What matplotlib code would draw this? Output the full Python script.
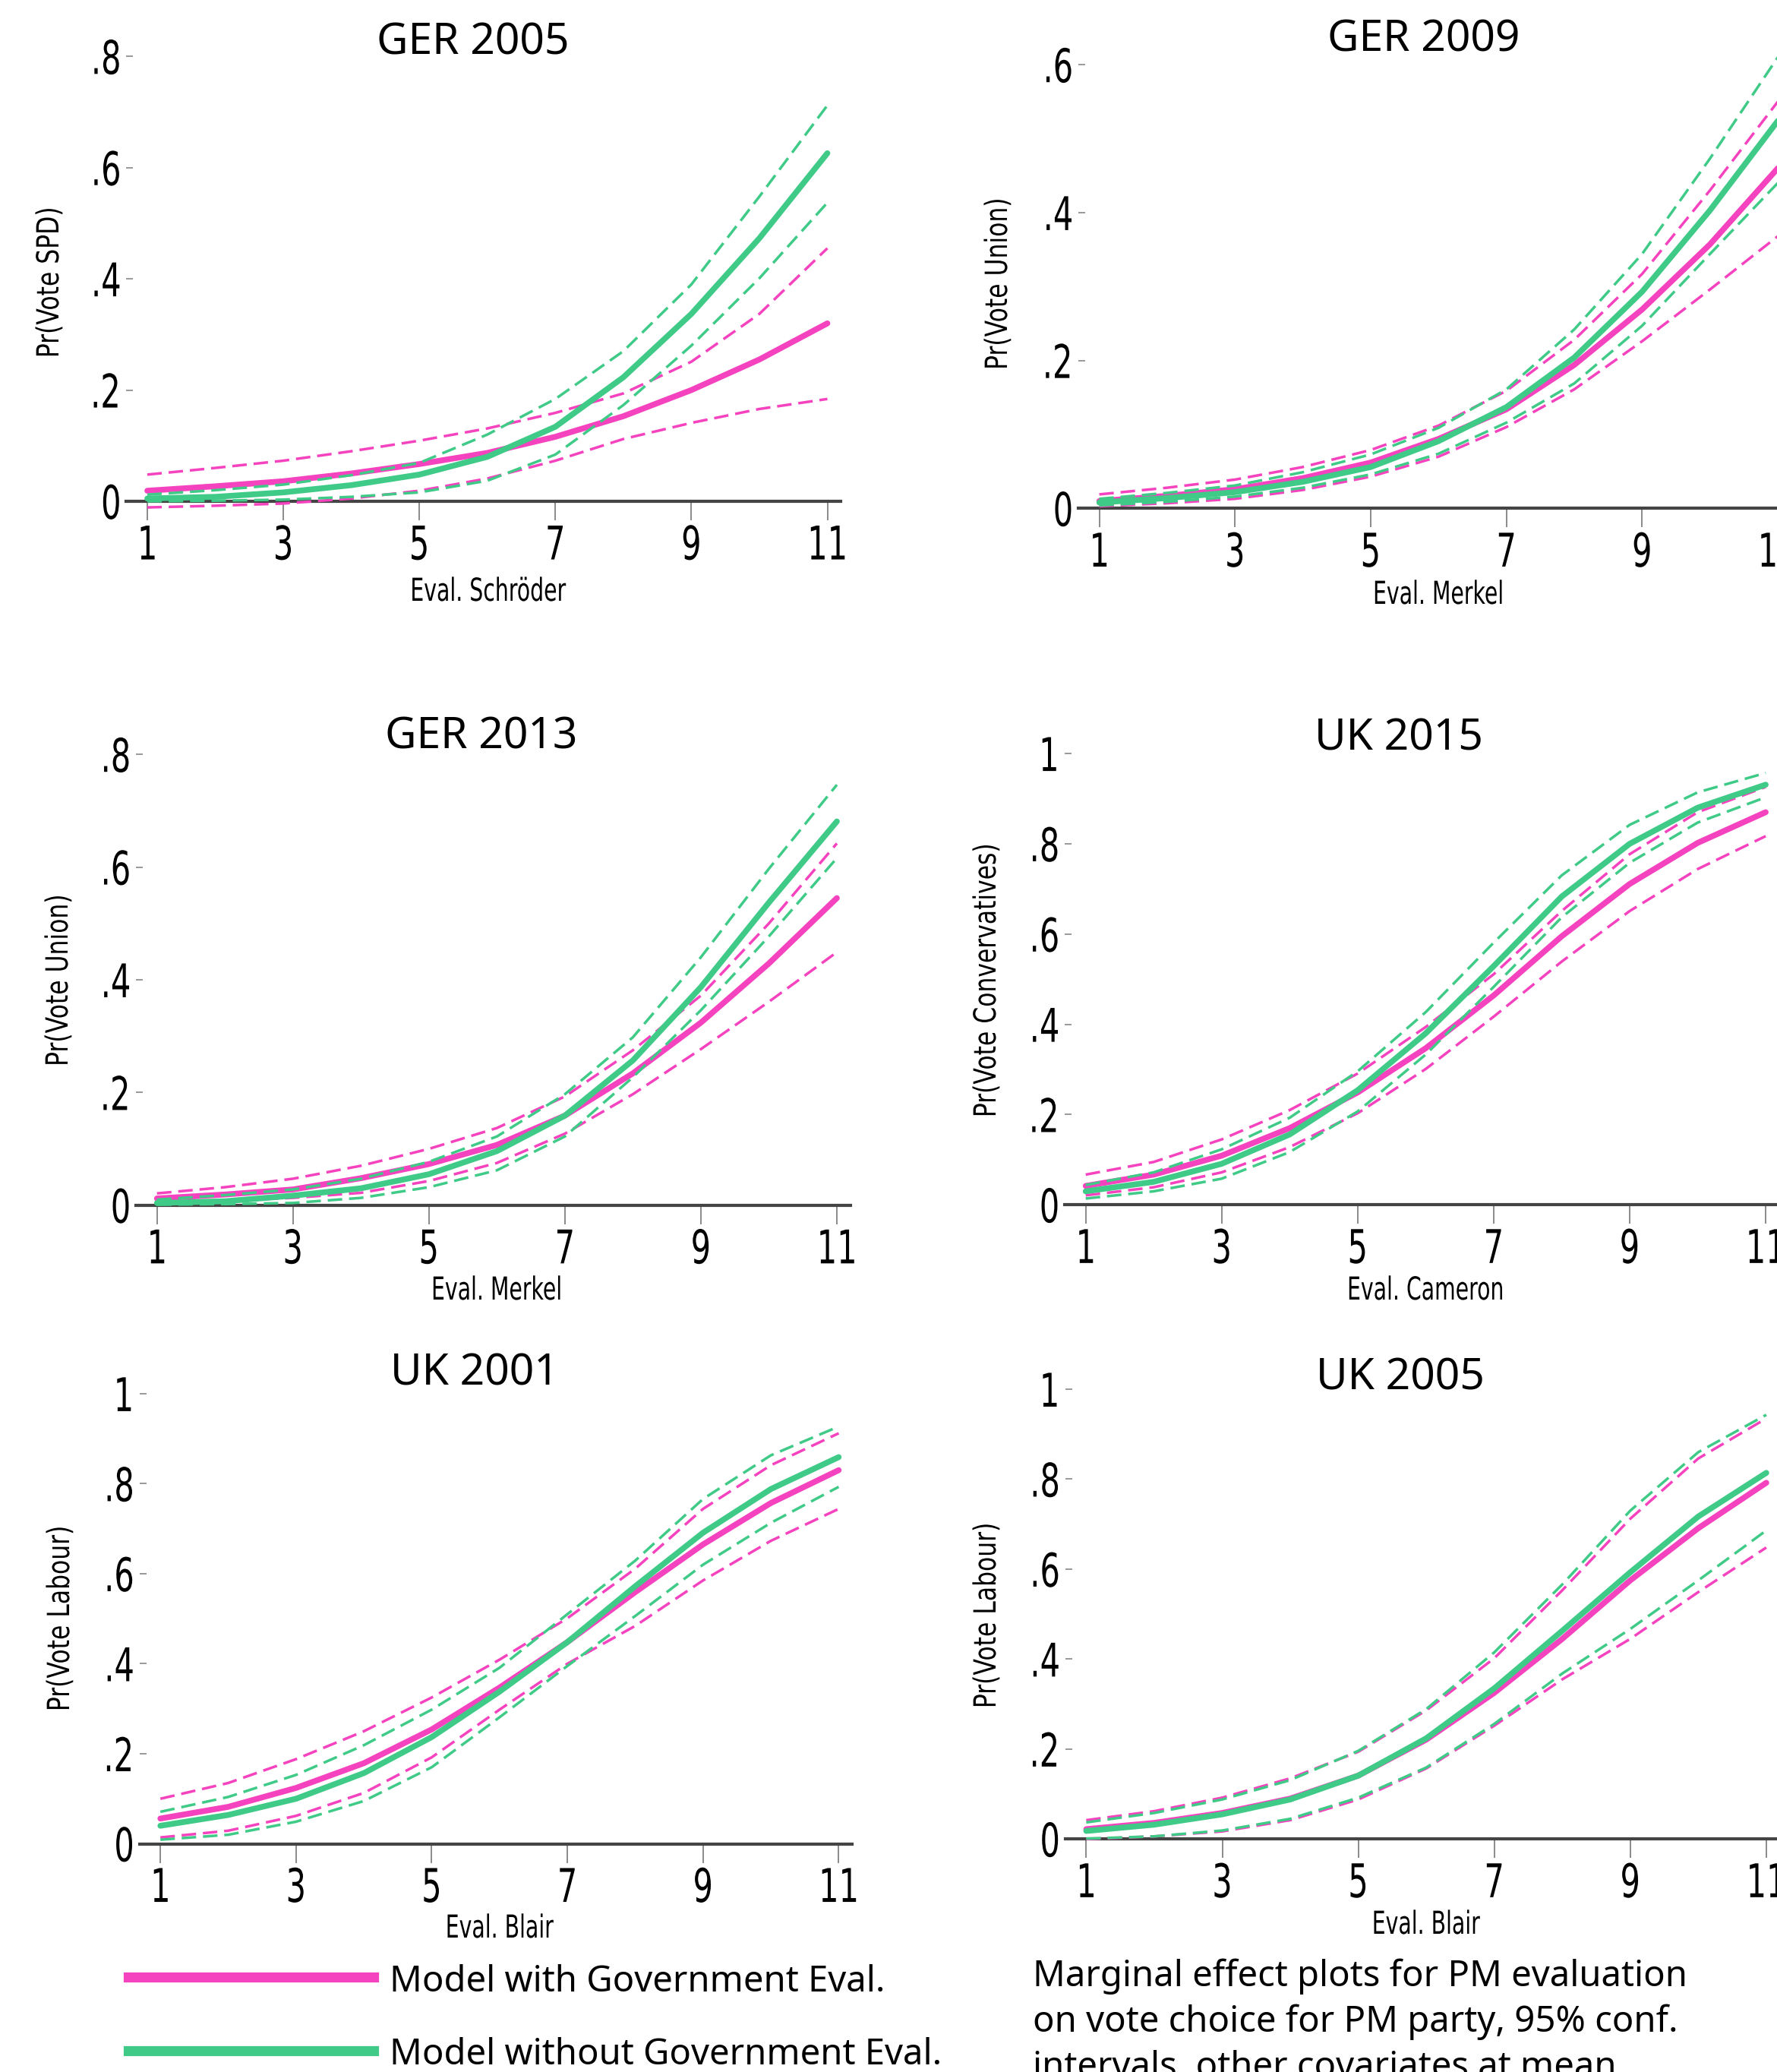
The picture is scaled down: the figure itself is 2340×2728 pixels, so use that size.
import matplotlib
matplotlib.use("Agg")
import matplotlib.pyplot as plt
from matplotlib.patheffects import AbstractPathEffect
from matplotlib.transforms import Affine2D

# evaluation scale
evals = [1, 2, 3, 4, 5, 6, 7, 8, 9, 10, 11]

# GER 2005
ger05_with = [0.019, 0.027, 0.036, 0.05, 0.067, 0.087, 0.116, 0.153, 0.2, 0.255, 0.32]
ger05_with_hi = [0.048, 0.06, 0.073, 0.09, 0.109, 0.131, 0.159, 0.194, 0.251, 0.337, 0.455]
ger05_with_lo = [-0.011, -0.008, -0.004, 0.005, 0.019, 0.041, 0.073, 0.112, 0.141, 0.166, 0.184]
ger05_wo = [0.005, 0.008, 0.016, 0.029, 0.048, 0.08, 0.134, 0.223, 0.337, 0.473, 0.626]
ger05_wo_hi = [0.012, 0.02, 0.03, 0.047, 0.069, 0.12, 0.184, 0.27, 0.39, 0.548, 0.712]
ger05_wo_lo = [0.0, 0.001, 0.003, 0.008, 0.016, 0.037, 0.084, 0.173, 0.28, 0.401, 0.537]

# GER 2009
ger09_with = [0.01, 0.017, 0.026, 0.041, 0.062, 0.094, 0.134, 0.194, 0.269, 0.357, 0.46]
ger09_with_hi = [0.019, 0.028, 0.039, 0.056, 0.079, 0.112, 0.159, 0.228, 0.317, 0.43, 0.55]
ger09_with_lo = [0.003, 0.007, 0.013, 0.025, 0.043, 0.07, 0.11, 0.161, 0.226, 0.296, 0.368]
ger09_wo = [0.008, 0.014, 0.022, 0.036, 0.056, 0.091, 0.137, 0.204, 0.293, 0.403, 0.524]
ger09_wo_hi = [0.013, 0.021, 0.031, 0.049, 0.073, 0.109, 0.161, 0.242, 0.344, 0.473, 0.61]
ger09_wo_lo = [0.004, 0.009, 0.016, 0.028, 0.046, 0.074, 0.116, 0.169, 0.247, 0.344, 0.44]

# GER 2013
ger13_with = [0.012, 0.019, 0.028, 0.048, 0.073, 0.107, 0.159, 0.234, 0.324, 0.429, 0.545]
ger13_with_hi = [0.021, 0.032, 0.047, 0.07, 0.1, 0.137, 0.193, 0.275, 0.372, 0.5, 0.642]
ger13_with_lo = [0.004, 0.008, 0.013, 0.022, 0.043, 0.075, 0.127, 0.197, 0.277, 0.361, 0.449]
ger13_wo = [0.004, 0.007, 0.017, 0.03, 0.055, 0.096, 0.159, 0.257, 0.387, 0.537, 0.681]
ger13_wo_hi = [0.01, 0.018, 0.028, 0.047, 0.077, 0.122, 0.197, 0.298, 0.44, 0.597, 0.746]
ger13_wo_lo = [0.001, 0.002, 0.004, 0.013, 0.032, 0.062, 0.122, 0.227, 0.346, 0.477, 0.616]

# UK 2015
uk15_with = [0.042, 0.067, 0.109, 0.17, 0.249, 0.347, 0.464, 0.595, 0.711, 0.802, 0.87]
uk15_with_hi = [0.067, 0.095, 0.145, 0.21, 0.291, 0.394, 0.511, 0.651, 0.777, 0.87, 0.926]
uk15_with_lo = [0.021, 0.039, 0.072, 0.128, 0.203, 0.301, 0.417, 0.539, 0.651, 0.744, 0.817]
uk15_wo = [0.03, 0.051, 0.091, 0.156, 0.254, 0.38, 0.529, 0.683, 0.8, 0.88, 0.931]
uk15_wo_hi = [0.044, 0.072, 0.123, 0.193, 0.296, 0.427, 0.581, 0.73, 0.842, 0.914, 0.957]
uk15_wo_lo = [0.014, 0.03, 0.058, 0.117, 0.207, 0.333, 0.483, 0.637, 0.758, 0.847, 0.903]

# UK 2001
uk01_with = [0.056, 0.082, 0.124, 0.179, 0.254, 0.347, 0.448, 0.559, 0.665, 0.757, 0.83]
uk01_with_hi = [0.1, 0.135, 0.188, 0.25, 0.325, 0.409, 0.501, 0.611, 0.744, 0.841, 0.912]
uk01_with_lo = [0.014, 0.029, 0.062, 0.113, 0.192, 0.298, 0.4, 0.484, 0.585, 0.673, 0.744]
uk01_wo = [0.04, 0.064, 0.1, 0.157, 0.237, 0.338, 0.448, 0.572, 0.691, 0.788, 0.859]
uk01_wo_hi = [0.071, 0.104, 0.153, 0.219, 0.298, 0.391, 0.51, 0.629, 0.766, 0.863, 0.927]
uk01_wo_lo = [0.009, 0.02, 0.049, 0.095, 0.17, 0.281, 0.395, 0.506, 0.62, 0.713, 0.793]

# UK 2005
uk05_with = [0.022, 0.036, 0.058, 0.09, 0.141, 0.221, 0.325, 0.445, 0.575, 0.691, 0.792]
uk05_with_hi = [0.042, 0.062, 0.092, 0.135, 0.194, 0.286, 0.402, 0.553, 0.712, 0.846, 0.935]
uk05_with_lo = [0.0, 0.006, 0.017, 0.042, 0.088, 0.157, 0.252, 0.355, 0.445, 0.549, 0.648]
uk05_wo = [0.018, 0.032, 0.055, 0.088, 0.141, 0.224, 0.335, 0.463, 0.593, 0.717, 0.814]
uk05_wo_hi = [0.037, 0.058, 0.088, 0.131, 0.196, 0.289, 0.415, 0.566, 0.73, 0.86, 0.943]
uk05_wo_lo = [0.001, 0.006, 0.019, 0.045, 0.092, 0.159, 0.256, 0.368, 0.467, 0.575, 0.686]

titles = ["GER 2005", "GER 2009", "GER 2013", "UK 2015", "UK 2001", "UK 2005"]
ylabels = ["Pr(Vote SPD)", "Pr(Vote Union)", "Pr(Vote Union)",
           "Pr(Vote Convervatives)", "Pr(Vote Labour)", "Pr(Vote Labour)"]
xlabels = ["Eval. Schröder", "Eval. Merkel", "Eval. Merkel",
           "Eval. Cameron", "Eval. Blair", "Eval. Blair"]
legend_labels = ["Model with Government Eval.", "Model without Government Eval."]
caption = ["Marginal effect plots for PM evaluation",
           "on vote choice for PM party, 95% conf.",
           "intervals, other covariates at mean"]

MAGENTA = "#f542bf"
GREEN = "#3fcb87"
SANS = ["Noto Sans", "DejaVu Sans"]

W, H = 2340, 2728
fig = plt.figure(figsize=(W / 100, H / 100), dpi=100)


class Squeeze(AbstractPathEffect):
    """Narrow the glyphs of a text along its writing direction."""

    def __init__(self, factor=0.7, anchor="center", vertical=False):
        super().__init__()
        self.factor = factor
        self.anchor = anchor
        self.vertical = vertical

    def draw_path(self, renderer, gc, tpath, affine, rgbFace=None):
        ext = tpath.get_extents(affine)
        if self.vertical:
            cy = (ext.y0 + ext.y1) / 2
            sq = Affine2D().translate(0, -cy).scale(1, self.factor).translate(0, cy)
        else:
            if self.anchor == "right":
                cx = ext.x1
            elif self.anchor == "left":
                cx = ext.x0
            else:
                cx = (ext.x0 + ext.x1) / 2
            sq = Affine2D().translate(-cx, 0).scale(self.factor, 1).translate(cx, 0)
        renderer.draw_path(gc, tpath, affine + sq, rgbFace)


def px(x, y):
    # pixel (from top-left) -> figure fraction
    return x / W, 1 - y / H


def add_panel(x1, x11, y0, ytop_px, ytop_val, xlim=(0.69, 11.2)):
    ppu = (x11 - x1) / 10.0
    ppv = (y0 - ytop_px) / ytop_val
    ylim = (-0.025 * ytop_val, ytop_val + 0.02)
    left = x1 + (xlim[0] - 1) * ppu
    right = x1 + (xlim[1] - 1) * ppu
    top = y0 - ylim[1] * ppv
    bottom = y0 - ylim[0] * ppv
    ax = fig.add_axes([left / W, 1 - bottom / H, (right - left) / W, (bottom - top) / H])
    ax.set_xlim(xlim)
    ax.set_ylim(ylim)
    return ax


# x=1 px, x=11 px, y=0 px, top tick px, top tick value
layout = [
    (194, 1089.5, 660, 74.3, 0.8),
    (1447.6, 2341, 669.4, 85.2, 0.6),
    (206.7, 1102, 1586.8, 993.2, 0.8),
    (1429.7, 2325.1, 1586.3, 992.1, 1.0),
    (211.2, 1104.4, 2427.5, 1834.9, 1.0),
    (1430.4, 2325.9, 2421.3, 1829, 1.0),
]
# baselines for titles / x labels, centres for y labels
title_pos = [(623, 71), (1875, 67), (634, 986), (1842, 988), (625, 1824), (1844, 1830)]
ylabel_pos = [(66, 372), (1315, 374), (78, 1291), (1300, 1291), (80, 2131), (1300, 2127)]
xlabel_pos = [(642, 791), (1894, 795), (654, 1711), (1877, 1711), (657, 2551), (1877, 2546)]

series = [
    (ger05_with, ger05_with_lo, ger05_with_hi, ger05_wo, ger05_wo_lo, ger05_wo_hi),
    (ger09_with, ger09_with_lo, ger09_with_hi, ger09_wo, ger09_wo_lo, ger09_wo_hi),
    (ger13_with, ger13_with_lo, ger13_with_hi, ger13_wo, ger13_wo_lo, ger13_wo_hi),
    (uk15_with, uk15_with_lo, uk15_with_hi, uk15_wo, uk15_wo_lo, uk15_wo_hi),
    (uk01_with, uk01_with_lo, uk01_with_hi, uk01_wo, uk01_wo_lo, uk01_wo_hi),
    (uk05_with, uk05_with_lo, uk05_with_hi, uk05_wo, uk05_wo_lo, uk05_wo_hi),
]

dash = (0, (5.5, 2.6))

for i, (x1, x11, y0, ytp, ytv) in enumerate(layout):
    ax = add_panel(x1, x11, y0, ytp, ytv)
    w, wlo, whi, wo, wolo, wohi = series[i]

    ax.plot(evals, wlo, color=MAGENTA, lw=2.5, ls=dash, zorder=3)
    ax.plot(evals, whi, color=MAGENTA, lw=2.5, ls=dash, zorder=3)
    ax.plot(evals, w, color=MAGENTA, lw=5.5, solid_capstyle="round", zorder=4)
    ax.plot(evals, wolo, color=GREEN, lw=2.5, ls=dash, zorder=5)
    ax.plot(evals, wohi, color=GREEN, lw=2.5, ls=dash, zorder=5)
    ax.plot(evals, wo, color=GREEN, lw=5.5, solid_capstyle="round", zorder=6)

    for s in ["top", "right", "left"]:
        ax.spines[s].set_visible(False)
    ax.spines["bottom"].set_position(("data", 0))
    ax.spines["bottom"].set_color("#444444")
    ax.spines["bottom"].set_linewidth(3)
    ax.spines["bottom"].set_zorder(2)
    ax.patch.set_alpha(0)

    ax.set_xticks([1, 3, 5, 7, 9, 11])
    yt = [v for v in [0, 0.2, 0.4, 0.6, 0.8, 1.0] if v <= ytv + 1e-9]
    ax.set_yticks(yt)
    ax.set_yticklabels(["0" if v == 0 else ("1" if v == 1 else ("%.1f" % v)[1:]) for v in yt])
    ax.tick_params(axis="x", direction="out", length=18, width=1.2, color="#777777",
                   pad=4, labelsize=44)
    ax.tick_params(axis="y", direction="in", length=6.5, width=1.2, color="#888888",
                   pad=4, labelsize=44)
    for lab in ax.get_xticklabels():
        lab.set_path_effects([Squeeze(0.68, "center")])
    for lab in ax.get_yticklabels():
        lab.set_path_effects([Squeeze(0.68, "right")])

    tx, ty = px(*title_pos[i])
    fig.text(tx, ty, titles[i], ha="center", va="baseline", fontsize=41, family=SANS)
    lx, ly = px(*ylabel_pos[i])
    fig.text(lx, ly, ylabels[i], ha="center", va="center", rotation=90,
             fontsize=29, path_effects=[Squeeze(0.78, vertical=True)])
    xx, xy = px(*xlabel_pos[i])
    fig.text(xx, xy, xlabels[i], ha="center", va="baseline",
             fontsize=30, path_effects=[Squeeze(0.68, "center")])

# legend drawn as lines in figure coordinates
for j, (col, yc, yb) in enumerate([(MAGENTA, 2603, 2622), (GREEN, 2700, 2718)]):
    xa, ya = px(169, yc)
    xb, _ = px(492, yc)
    fig.add_artist(plt.Line2D([xa, xb], [ya, ya], color=col, lw=9.5,
                              transform=fig.transFigure))
    tx, ty = px(513, yb)
    fig.text(tx, ty, legend_labels[j], ha="left", va="baseline", fontsize=34, family=SANS)

for k, line in enumerate(caption):
    tx, ty = px(1360, 2615 + 60 * k)
    fig.text(tx, ty, line, ha="left", va="baseline", fontsize=34, family=SANS)

fig.savefig("out.png", dpi=100)
